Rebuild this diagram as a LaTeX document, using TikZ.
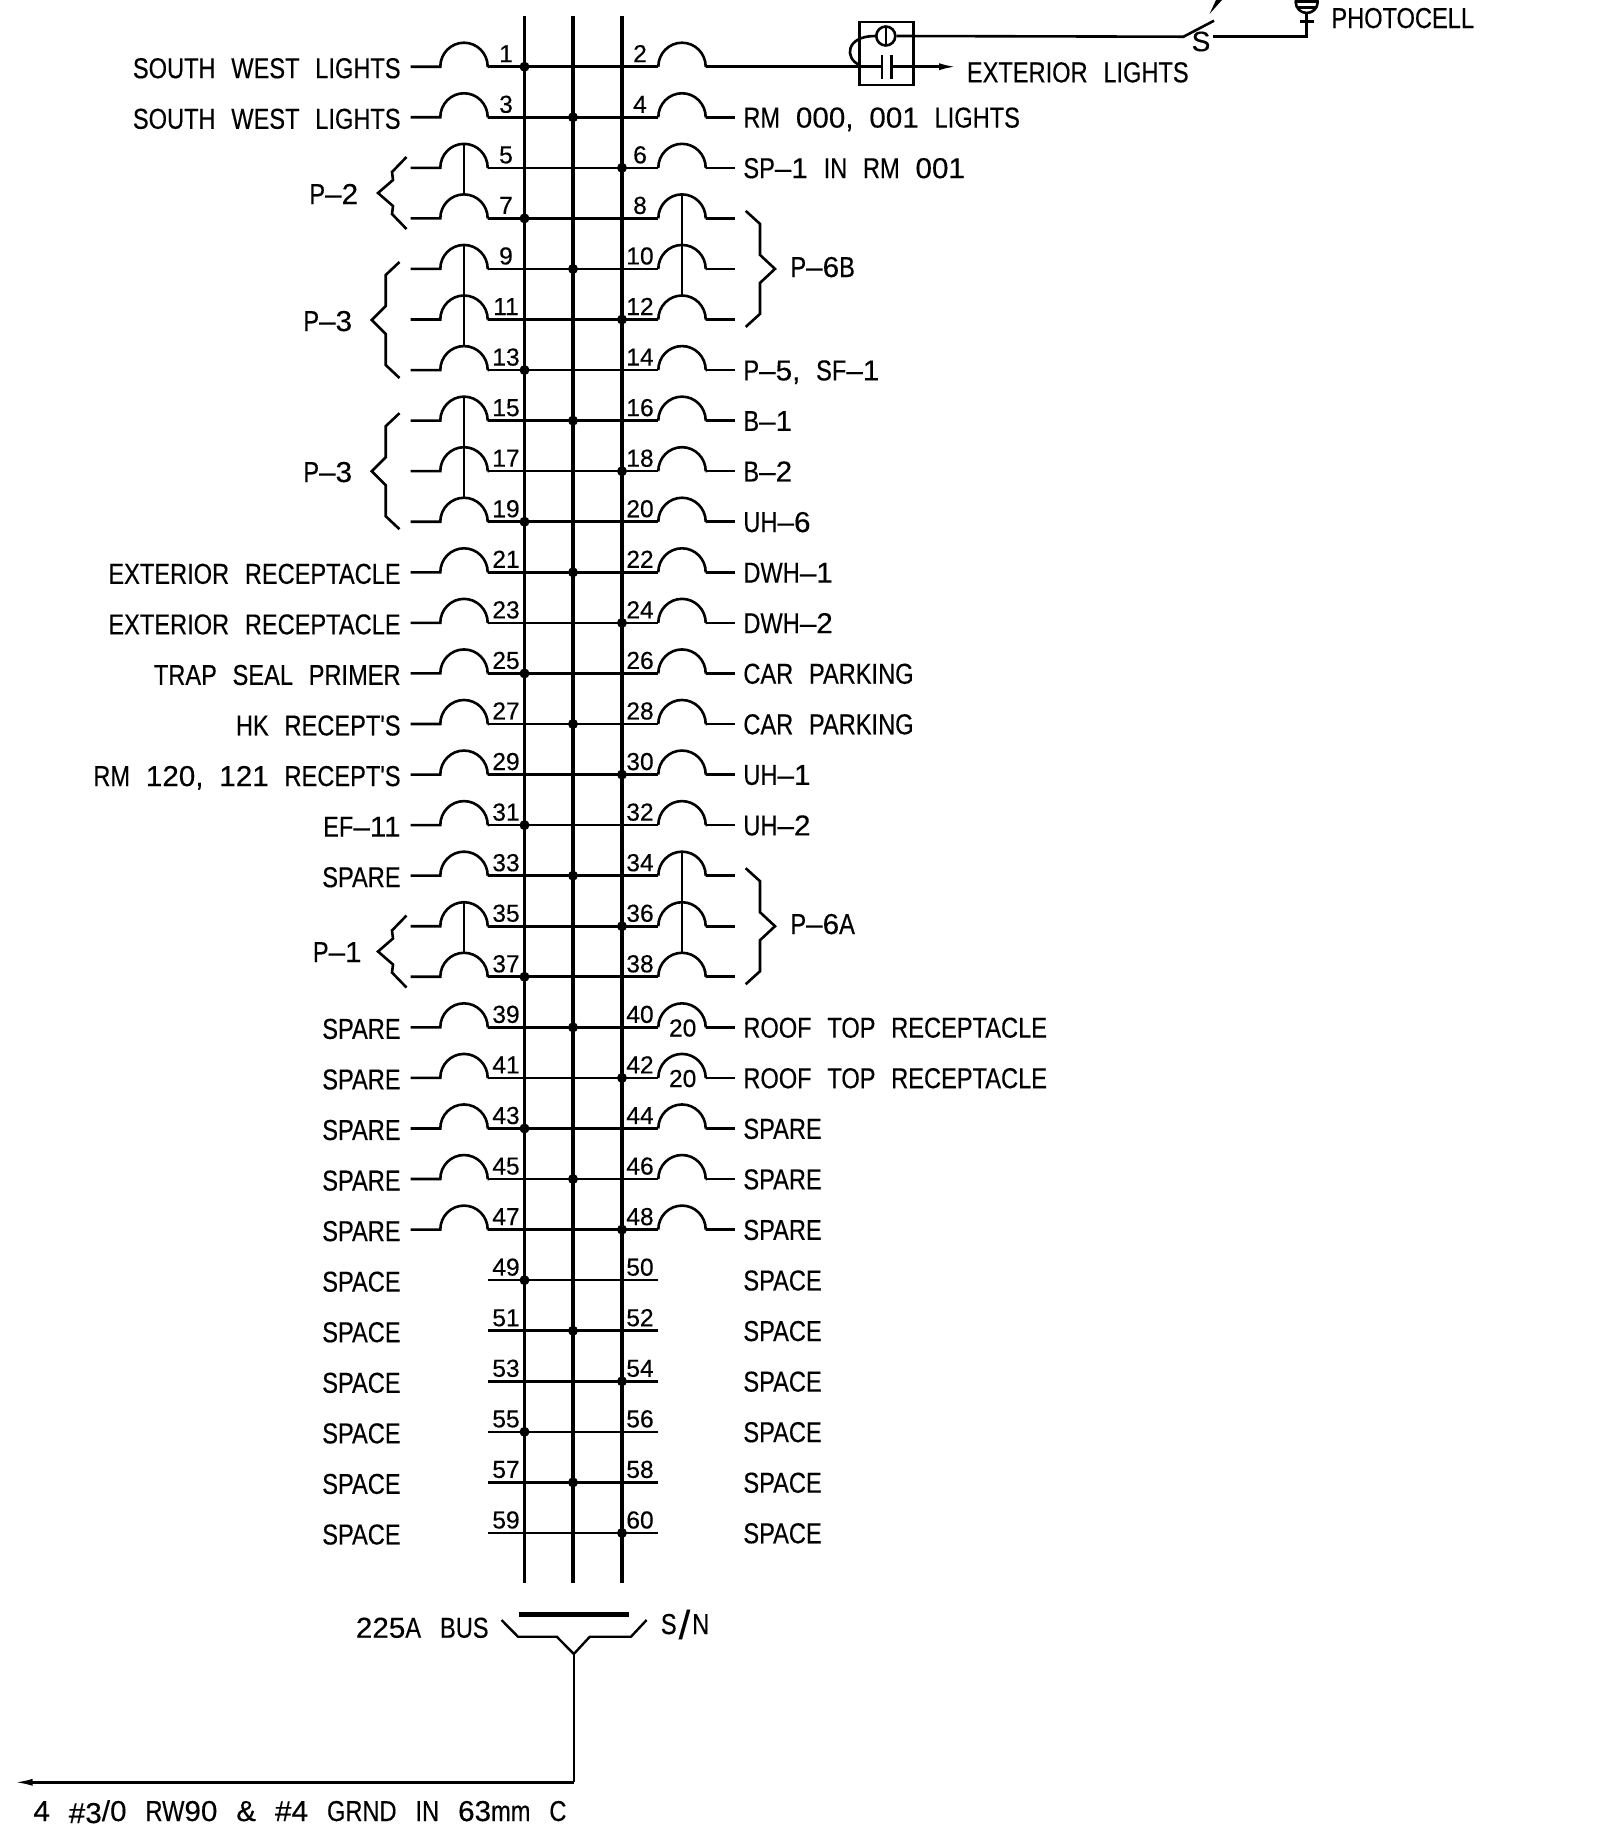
\documentclass[tikz,border=0pt]{standalone}
\usepackage{fontspec}
\usetikzlibrary{arrows.meta}
\newfontfamily\lblfont[FakeStretch=0.82,WordSpace=2.4,FakeBold=0.3]{Liberation Sans}
\newfontfamily\numfont[FakeStretch=1.0,FakeBold=0.3]{Liberation Sans}
\newfontfamily\dgfont[FakeStretch=1.03,WordSpace=2.4,FakeBold=0.3]{Liberation Sans}
\newcommand\dg[1]{{\dgfont #1}}
\newcommand\gp{\ \kern1.6pt}
\tikzset{
  lbl/.style={font=\lblfont\fontsize{14.4}{16}\selectfont,inner sep=0pt,text=black},
  lblL/.style={lbl,anchor=base east},
  lblR/.style={lbl,anchor=base west},
  numb/.style={font=\numfont\fontsize{12.3}{14}\selectfont,inner sep=0pt,anchor=base},
  bus/.style={line width=1.8pt},
  wire/.style={line width=1.3pt},
  thinw/.style={line width=1.2pt},
  dotj/.style={circle,fill=black,inner sep=0pt,minimum size=5pt},
  tip/.style={-{Latex[length=9pt,width=3.5pt]}},
}
\begin{document}
\begin{tikzpicture}[x=0.5pt,y=-0.5pt]
\useasboundingbox (0,0) rectangle (1622,1843);
\def\bxA{524.5}\def\bxB{573}\def\bxC{622}
% buses
\foreach \n/\xx in {A/\bxA,B/\bxB,C/\bxC}{
  \coordinate (top\n) at (\xx,16);
  \coordinate (bot\n) at (\xx,1583);
  \draw[bus] (top\n) -- (bot\n);
}
% rows
\foreach \k in {0,...,29}{
  \pgfmathsetmacro{\ry}{66.7+50.56*\k}
  \pgfmathtruncatemacro{\nl}{2*\k+1}
  \pgfmathtruncatemacro{\nr}{2*\k+2}
  \pgfmathtruncatemacro{\md}{mod(\k,3)}
  \coordinate (W\k) at (410.7,\ry);
  \coordinate (A\k) at (440.3,\ry);
  \coordinate (B\k) at (487.7,\ry);
  \coordinate (C\k) at (658.3,\ry);
  \coordinate (D\k) at (705.7,\ry);
  \coordinate (E\k) at (735,\ry);
  \coordinate (LT\k) at (464,\ry-24);
  \coordinate (RT\k) at (682,\ry-24);
  \draw[wire] (B\k) -- (C\k);
  \ifnum\k<24
    \draw[wire] (W\k) -- (A\k) arc[start angle=180,end angle=0,x radius=11.85pt,y radius=12pt] -- (B\k);
    \draw[wire] (C\k) arc[start angle=180,end angle=0,x radius=11.85pt,y radius=12pt] -- (D\k);
    \ifnum\k>0 \draw[wire] (D\k) -- (E\k); \fi
  \fi
  \ifcase\md
    \node[dotj] (J\k) at (\bxA,\ry) {};
  \or
    \node[dotj] (J\k) at (\bxB,\ry) {};
  \or
    \node[dotj] (J\k) at (\bxC,\ry) {};
  \fi
  \node[numb] (nl\k) at (506,\ry-4.5) {\nl};
  \node[numb] (nr\k) at (640,\ry-4.5) {\nr};
}
% ganged handles
\draw[wire] (LT2) -- (LT3);
\draw[wire] (LT4) -- (LT6);
\draw[wire] (LT7) -- (LT9);
\draw[wire] (LT17) -- (LT18);
\draw[wire] (RT3) -- (RT5);
\draw[wire] (RT16) -- (RT18);
% left labels
\foreach \k/\t in {0/SOUTH WEST LIGHTS,1/SOUTH WEST LIGHTS,10/EXTERIOR RECEPTACLE,11/EXTERIOR RECEPTACLE,12/TRAP SEAL PRIMER,13/HK RECEPT'S,14/{RM \dg{120,} \dg{121} RECEPT'S},15/EF\dg{–11},16/SPARE,19/SPARE,20/SPARE,21/SPARE,22/SPARE,23/SPARE,24/SPACE,25/SPACE,26/SPACE,27/SPACE,28/SPACE,29/SPACE}{
  \pgfmathsetmacro{\ry}{66.7+50.56*\k+11.5}
  \node[lblL] (tl\k) at (401,\ry) {\t};
}
% right labels
\foreach \k/\t in {1/{RM \dg{000,} \dg{001} LIGHTS},2/SP\dg{–1} IN RM \dg{001},6/{P\dg{–5,} SF\dg{–1}},7/B\dg{–1},8/B\dg{–2},9/UH\dg{–6},10/DWH\dg{–1},11/DWH\dg{–2},12/CAR PARKING,13/CAR PARKING,14/UH\dg{–1},15/UH\dg{–2},19/ROOF TOP RECEPTACLE,20/ROOF TOP RECEPTACLE,21/SPARE,22/SPARE,23/SPARE,24/SPACE,25/SPACE,26/SPACE,27/SPACE,28/SPACE,29/SPACE}{
  \pgfmathsetmacro{\ry}{66.7+50.56*\k+10.3}
  \node[lblR] (tr\k) at (743,\ry) {\t};
}
\node[numb] (twentyA) at (682.7,1036.5) {20};
\node[numb] (twentyB) at (682.7,1087) {20};
% braces: P-2, P-1
\foreach \nm/\my in {a/193,b/951.5}{
  \draw[wire] (406.5,\my-36) -- (392,\my-21) -- (393,\my-13) -- (378,\my) -- (393,\my+13) -- (392,\my+21) -- (406.5,\my+36);
}
% braces: P-3
\foreach \nm/\my in {c/320,d/471.2}{
  \draw[wire] (399.5,\my-58) -- (385.7,\my-45) -- (385.7,\my-14) -- (371.7,\my) -- (385.7,\my+14) -- (385.7,\my+45) -- (399.5,\my+58);
}
% braces: P-6B, P-6A
\foreach \nm/\my in {e/268.9,f/926.2}{
  \draw[wire] (745.7,\my-58) -- (760,\my-45) -- (760,\my-14) -- (775,\my) -- (760,\my+14) -- (760,\my+45) -- (745.7,\my+58);
}
\node[lblL] (p2) at (358.5,204) {P\dg{–2}};
\node[lblL] (p3a) at (352.5,331) {P\dg{–3}};
\node[lblL] (p3b) at (352.5,482) {P\dg{–3}};
\node[lblL] (p1) at (362,962) {P\dg{–1}};
\node[lblR] (p6b) at (790,277) {P\dg{–6}B};
\node[lblR] (p6a) at (790,934) {P\dg{–6}A};
% contactor
\coordinate (rowend) at (881.8,66.7);
\draw[wire] (D0) -- (rowend);
\draw[wire] (881.8,55) -- (881.8,79);
\draw[wire] (891.6,55) -- (891.6,79);
\coordinate (extfrom) at (891.6,66.7);
\coordinate (exttip) at (957,66.7);
\draw[wire,tip] (extfrom) -- (exttip);
\node[draw,line width=1.3pt,minimum width=27pt,minimum height=31.4pt,inner sep=0pt] (cbox) at (886.5,53.4) {};
\node[draw,circle,line width=1.3pt,minimum size=9.5pt,inner sep=0pt] (coil) at (885.8,36) {};
\draw[wire] (885.8,26.5) -- (885.8,45.5);
\draw[wire] (859.5,65) .. controls (844,58) and (846,36) .. (coil.west);
\coordinate (swL) at (1183.5,36.7);
\coordinate (swT) at (1214,20.7);
\draw[wire] (coil.east) -- (1180,36.7) -- (swL) -- (swT);
\node[inner sep=0pt,font=\numfont\fontsize{14}{16}\selectfont] (swS) at (1201,41.5) {S};
\coordinate (swR) at (1212.7,36.7);
\coordinate (pcB) at (1306.7,36.7);
\coordinate (pcT) at (1306.7,13);
\draw[wire] (swR) -- (pcB) -- (pcT);
\draw[wire] (1300,21.7) -- (1314,21.7);
\fill (1209.5,14) -- (1216,0) -- (1222,0) -- cycle;
\begin{scope}
  \clip (1280,0) rectangle (1335,20);
  \draw[wire] (1306.7,2) circle[radius=5.5pt];
  \fill (1296,0) rectangle (1318,2.5);
  \draw[wire] (1297,7.5) -- (1316.5,7.5);
\end{scope}
\node[lblR] (extl) at (966.5,82.3) {EXTERIOR LIGHTS};
\node[lblR] (photo) at (1331,28) {PHOTOCELL};
% bus bottom
\node[fill=black,minimum width=54.6pt,minimum height=2.8pt,inner sep=0pt] (bar) at (574,1614.5) {};
\coordinate (y0) at (501.5,1620);
\coordinate (y1) at (518,1636.7);
\coordinate (y2) at (556.8,1636.7);
\coordinate (y3) at (573.8,1654);
\coordinate (y4) at (589.8,1636.7);
\coordinate (y5) at (631,1636.7);
\coordinate (y6) at (646.6,1620);
\draw[thinw] (y0) -- (y1) -- (y2) -- (y3) -- (y4) -- (y5) -- (y6);
\coordinate (corner) at (573.8,1782.3);
\coordinate (feedtip) at (14.6,1782.3);
\draw[thinw] (y3) -- (corner);
\draw[thinw,tip] (corner) -- (feedtip);
\node[lblL] (bus225) at (489,1637.7) {\dg{225}A\gp BUS};
\node[lblR] (sn) at (660.5,1634) {S\kern1pt\raisebox{-2.5pt}{\scalebox{1.4}[1.4]{\dg{/}}}\kern1pt N};
\node[lblR] (feeder) at (33,1821) {\dg{4}\gp\raisebox{-1pt}{\dg{\#3}}\dg{/0}\gp RW\dg{90}\gp\dg{\&}\gp\dg{\#4}\gp GRND\gp IN\gp\dg{63}mm\gp C};
\end{tikzpicture}
\end{document}
